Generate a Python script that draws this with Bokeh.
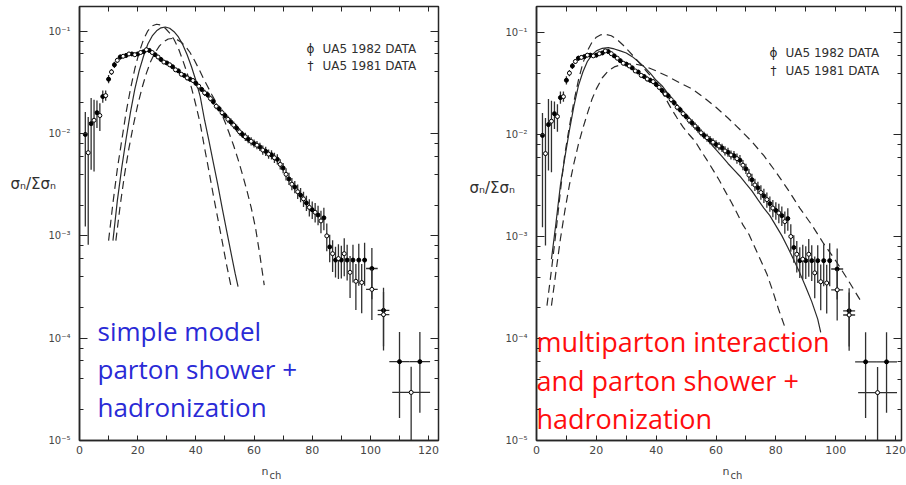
from bokeh.plotting import figure
from bokeh.layouts import row
from bokeh.models import (Range1d, LinearAxis, LogAxis, FixedTicker, LogTicker,
                          CustomJSTickFormatter, CustomLabelingPolicy, Label, ColumnDataSource)
from bokeh.embed import file_html
from bokeh.resources import INLINE

# ---------------- axis ticks ----------------
x_ticks = [0, 20, 40, 60, 80, 100, 120]
x_minor = [10, 30, 50, 70, 90, 110]

# ---------------- UA5 1982 data ----------------
n82 = [2, 4, 6, 8, 10, 12, 14, 16, 18, 20, 22, 24, 26, 28, 30, 32, 34, 36, 38, 40,
       42, 44, 46, 48, 50, 52, 54, 56, 58, 60, 62, 64, 66, 68, 70, 72, 74, 76, 78, 80,
       82, 84, 86, 88, 90, 92, 94, 96, 98, 100.5, 104.5, 110, 117]
v82 = [0.0098, 0.0125, 0.016, 0.023, 0.034, 0.047, 0.056, 0.058, 0.060, 0.060,
       0.063, 0.065, 0.059, 0.053, 0.049, 0.045, 0.041, 0.037, 0.034, 0.031,
       0.027, 0.024, 0.0205, 0.0175, 0.0150, 0.0130, 0.0113, 0.0098, 0.0088, 0.0080,
       0.0074, 0.0067, 0.0062, 0.0056, 0.0046, 0.0036, 0.0030, 0.0025, 0.0021, 0.0018,
       0.0016, 0.0015, 0.00078, 0.00058, 0.00058, 0.00058, 0.00058, 0.00058, 0.00058,
       0.00048, 0.000187, 5.9e-5, 5.9e-5]
up82 = [0.22, 0.25, 0.12, 0.06, 0.04, 0.03, 0.025, 0.02, 0.02, 0.02,
        0.02, 0.02, 0.02, 0.02, 0.02, 0.02, 0.02, 0.02, 0.025, 0.025,
        0.025, 0.03, 0.03, 0.03, 0.03, 0.035, 0.035, 0.035, 0.04, 0.04,
        0.04, 0.045, 0.045, 0.05, 0.05, 0.06, 0.06, 0.07, 0.07, 0.08,
        0.09, 0.10, 0.12, 0.13, 0.14, 0.15, 0.15, 0.16, 0.17,
        0.20, 0.22, 0.29, 0.29]
dn82 = [0.90, 0.45, 0.15, 0.06, 0.04, 0.03, 0.025, 0.02, 0.02, 0.02,
        0.02, 0.02, 0.02, 0.02, 0.02, 0.02, 0.02, 0.02, 0.025, 0.025,
        0.025, 0.03, 0.03, 0.03, 0.03, 0.035, 0.035, 0.035, 0.04, 0.04,
        0.04, 0.045, 0.045, 0.05, 0.05, 0.06, 0.06, 0.07, 0.08, 0.09,
        0.10, 0.12, 0.15, 0.17, 0.18, 0.20, 0.22, 0.25, 0.25,
        0.30, 0.35, 0.55, 0.50]
xe82 = [0] * 49 + [2, 2, 3.5, 3.5]

# ---------------- UA5 1981 data ----------------
n81 = [3, 5, 7, 9, 11, 13, 15, 17, 19, 21, 23, 25, 27, 29, 31, 33, 35, 37, 39, 41,
       43, 45, 47, 49, 51, 53, 55, 57, 59, 61, 63, 65, 67, 69, 71, 73, 75, 77, 79, 81,
       83, 85, 87, 89, 91, 93, 95, 97, 100.5, 104.5, 114]
v81 = [0.0065, 0.0135, 0.015, 0.0235, 0.040, 0.052, 0.057, 0.060, 0.059, 0.062,
       0.066, 0.062, 0.056, 0.050, 0.047, 0.042, 0.038, 0.035, 0.033, 0.029,
       0.025, 0.022, 0.0185, 0.016, 0.0138, 0.0121, 0.0104, 0.0093, 0.0084, 0.0077,
       0.0069, 0.0063, 0.0058, 0.0050, 0.0040, 0.0032, 0.0027, 0.0023, 0.0019, 0.0017,
       0.0014, 0.00100, 0.00067, 0.00060, 0.00067, 0.00044, 0.00036, 0.00035,
       0.00030, 0.00017, 2.95e-5]
up81 = [0.35, 0.20, 0.12, 0.05, 0.03, 0.025, 0.02, 0.02, 0.02, 0.02,
        0.02, 0.02, 0.02, 0.02, 0.02, 0.02, 0.02, 0.025, 0.025, 0.025,
        0.03, 0.03, 0.03, 0.03, 0.035, 0.035, 0.035, 0.04, 0.04, 0.04,
        0.045, 0.045, 0.05, 0.05, 0.06, 0.06, 0.07, 0.07, 0.08, 0.09,
        0.10, 0.12, 0.13, 0.14, 0.15, 0.16, 0.17, 0.18,
        0.20, 0.22, 0.25]
dn81 = [0.90, 0.50, 0.15, 0.05, 0.03, 0.025, 0.02, 0.02, 0.02, 0.02,
        0.02, 0.02, 0.02, 0.02, 0.02, 0.02, 0.02, 0.025, 0.025, 0.025,
        0.03, 0.03, 0.03, 0.03, 0.035, 0.035, 0.035, 0.04, 0.04, 0.04,
        0.045, 0.045, 0.05, 0.05, 0.06, 0.06, 0.07, 0.08, 0.09, 0.10,
        0.12, 0.15, 0.18, 0.20, 0.22, 0.25, 0.28, 0.30,
        0.30, 0.35, 0.80]
xe81 = [0] * 48 + [2, 2, 6.5]

# ---------------- model curves, left panel ----------------
ld1_n = [10.0, 11.5, 13.0, 14.5, 16.0, 17.5, 19.0, 20.5, 22.0, 23.5, 25.0, 26.5, 28.0,
         29.5, 31.0, 32.5, 34.0, 35.5, 37.0, 38.5, 40.0, 41.5, 43.0, 44.5, 46.0, 47.5,
         49.0, 50.5, 52.0]
ld1_v = [9.0e-4, 0.0021, 0.0045, 0.0085, 0.016, 0.027, 0.043, 0.062, 0.083, 0.101,
         0.113, 0.117, 0.115, 0.107, 0.096, 0.083, 0.068, 0.052, 0.039, 0.028, 0.019,
         0.0125, 0.0072, 0.0043, 0.0025, 0.0015, 0.0009, 0.00053, 0.00033]
ls_n = [11.5, 13.0, 14.5, 16.0, 17.5, 19.0, 20.5, 22.0, 23.5, 25.0, 26.5, 28.0, 29.5,
        31.0, 32.5, 34.0, 35.5, 37.0, 38.5, 40.0, 41.5, 43.0, 44.5, 46.0, 47.5, 49.0,
        50.5, 52.0, 53.5, 54.5]
ls_v = [9.0e-4, 0.0022, 0.0046, 0.0088, 0.016, 0.027, 0.041, 0.057, 0.075, 0.090,
        0.101, 0.108, 0.110, 0.107, 0.099, 0.088, 0.074, 0.059, 0.045, 0.033, 0.023,
        0.0135, 0.0085, 0.0052, 0.0032, 0.0019, 0.00115, 0.0007, 0.00043, 0.00032]
ld2_n = [12.5, 14.0, 15.5, 17.0, 18.5, 20.0, 21.5, 23.0, 24.5, 26.0, 27.5, 29.0, 30.5,
         32.0, 33.5, 35.0, 36.5, 38.0, 39.5, 41.0, 42.5, 44.0, 45.5, 47.0, 48.5, 50.0,
         51.5, 53.0, 54.5, 56.0, 57.5, 59.0, 60.5, 62.0, 63.5]
ld2_v = [9.0e-4, 0.0020, 0.0040, 0.0072, 0.012, 0.019, 0.028, 0.039, 0.051, 0.062,
         0.072, 0.079, 0.084, 0.085, 0.083, 0.078, 0.071, 0.062, 0.052, 0.043, 0.035,
         0.029, 0.024, 0.020, 0.0165, 0.0130, 0.0100, 0.0076, 0.0056, 0.0040, 0.0028,
         0.0019, 0.0012, 0.00065, 0.00033]

# ---------------- model curves, right panel ----------------
rd1_n = [3.5, 5.0, 6.5, 8.0, 9.5, 11.0, 12.5, 14.0, 15.5, 17.0, 18.5, 20.0, 21.5, 23.0,
         25.0, 27.0, 29.0, 31.0, 33.0, 35.0, 37.0, 39.0, 41.0, 43.0, 45.0, 47.0, 49.0,
         51.0, 53.0, 55.0, 57.0, 59.0, 61.0, 63.0, 65.0, 67.0, 69.0, 71.0, 73.0, 75.0,
         77.0, 79.0, 81.0, 83.0]
rd1_v = [2.1e-4, 4.7e-4, 0.0011, 0.0028, 0.0065, 0.012, 0.021, 0.034, 0.050, 0.066,
         0.080, 0.090, 0.095, 0.096, 0.093, 0.085, 0.075, 0.065, 0.056, 0.048, 0.041,
         0.035, 0.029, 0.023, 0.018, 0.0145, 0.0118, 0.0100, 0.0086, 0.0069, 0.0056,
         0.0045, 0.0036, 0.0028, 0.0022, 0.0017, 0.0013, 0.00105, 0.00078, 0.00058,
         0.00043, 0.00029, 0.00019, 0.00013]
rs_n = [5.0, 6.5, 8.0, 9.5, 11.0, 12.5, 14.0, 15.5, 17.0, 18.5, 20.0, 22.0, 24.0, 26.0,
        28.0, 30.0, 32.0, 34.0, 36.0, 38.0, 40.0, 42.0, 44.0, 46.0, 48.0, 50.0, 52.0,
        54.0, 56.0, 58.0, 60.0, 62.0, 64.0, 66.0, 68.0, 70.0, 72.0, 74.0, 76.0, 78.0,
        80.0, 82.0, 84.0, 86.0, 88.0, 90.0, 92.0, 94.0, 95.0]
rs_v = [6.0e-4, 0.00135, 0.0032, 0.0060, 0.011, 0.019, 0.030, 0.041, 0.052, 0.060,
        0.066, 0.070, 0.071, 0.069, 0.066, 0.063, 0.058, 0.052, 0.046, 0.040, 0.034,
        0.030, 0.025, 0.021, 0.018, 0.0155, 0.0133, 0.0114, 0.0097, 0.0083, 0.0071,
        0.0061, 0.0052, 0.0045, 0.0039, 0.0033, 0.0028, 0.0023, 0.0019, 0.0016,
        0.00128, 0.00102, 0.00078, 0.00059, 0.00044, 0.00032, 0.00023, 0.000155,
        0.000115]
rd2_n = [5.0, 6.5, 8.0, 9.5, 11.0, 12.5, 14.0, 15.5, 17.0, 18.5, 20.0, 22.0, 24.0, 26.0,
         28.0, 30.0, 33.0, 36.0, 40.0, 44.0, 48.0, 52.0, 56.0, 60.0, 64.0, 68.0, 72.0,
         76.0, 80.0, 84.0, 88.0, 92.0, 96.0, 100.0, 104.0, 108.5]
rd2_v = [2.1e-4, 4.5e-4, 9.5e-4, 0.0018, 0.0032, 0.0052, 0.0080, 0.0115, 0.016, 0.022,
         0.028, 0.036, 0.042, 0.046, 0.048, 0.049, 0.049, 0.047, 0.042, 0.037, 0.032,
         0.028, 0.023, 0.0185, 0.0145, 0.0112, 0.0085, 0.0062, 0.0043, 0.0029, 0.0019,
         0.0013, 0.00085, 0.00058, 0.00038, 0.00023]

legend_texts = ["UA5 1982 DATA", "UA5 1981 DATA"]
legend_marks = ["\u0278", "\u2020"]
left_note = ["simple model", "parton shower +", "hadronization"]
right_note = ["multiparton interaction", "and parton shower +", "hadronization"]

INK = "#262626"
SUP = {"-": "\u207b", "0": "\u2070", "1": "\u00b9", "2": "\u00b2", "3": "\u00b3",
       "4": "\u2074", "5": "\u2075", "6": "\u2076", "7": "\u2077", "8": "\u2078", "9": "\u2079"}

fmt_code = """
const e = Math.round(Math.log10(tick));
const m = %s;
return "10" + String(e).split("").map(c => m[c]).join("");
""" % (str(SUP).replace("'", '"'))


def data_sources(n, v, up, dn, xe):
    lo = [vi * 10 ** (-d) for vi, d in zip(v, dn)]
    hi = [vi * 10 ** (u) for vi, u in zip(v, up)]
    pts = ColumnDataSource(dict(n=n, v=v, lo=lo, hi=hi))
    hx = [(ni, vi, e) for ni, vi, e in zip(n, v, xe) if e > 0]
    hsrc = ColumnDataSource(dict(x0=[a - e for a, _, e in hx], x1=[a + e for a, _, e in hx],
                                 y=[b for _, b, _ in hx]))
    return pts, hsrc


def tick_only(ax):
    ax.major_label_policy = CustomLabelingPolicy(code="return []")
    ax.major_label_text_font_size = "1px"
    ax.major_label_standoff = 0
    ax.major_tick_out = 0
    ax.minor_tick_out = 0
    ax.axis_line_color = INK
    ax.major_tick_line_color = INK
    ax.minor_tick_line_color = INK


def make_panel(width, fl, fr, ft, fb, x_end, y_top, curves, note, note_color, note_size,
               note_x, note_ys, ylab_x, ylab_y, leg_x, leg_ys, xlab_x, xlab_y):
    p = figure(width=width, height=485, y_axis_type="log",
               x_range=Range1d(0, x_end), y_range=Range1d(1e-5, y_top),
               output_backend="svg", toolbar_location=None,
               min_border_left=fl, min_border_right=width - fr,
               min_border_top=ft, min_border_bottom=485 - fb)
    p.grid.visible = False
    p.outline_line_color = INK
    p.outline_line_width = 1.5
    p.background_fill_color = "white"
    p.border_fill_color = "white"

    xa = p.xaxis[0]
    xa.ticker = FixedTicker(ticks=x_ticks, minor_ticks=x_minor)
    ya = p.yaxis[0]
    ya.ticker = LogTicker(mantissas=[1], desired_num_ticks=6)
    ya.formatter = CustomJSTickFormatter(code=fmt_code)
    for ax in (xa, ya):
        ax.axis_line_color = INK
        ax.axis_line_width = 1.5
        ax.major_tick_line_color = INK
        ax.minor_tick_line_color = INK
        ax.major_tick_out = 0
        ax.minor_tick_out = 0
        ax.major_label_text_font = "DejaVu Sans"
        ax.major_label_text_color = "#454545"
    xa.major_tick_in = 5
    xa.minor_tick_in = 5
    xa.major_label_text_font_size = "11px"
    xa.major_label_standoff = 5
    ya.major_tick_in = 8
    ya.minor_tick_in = 4
    ya.major_label_text_font_size = "10px"
    ya.major_label_standoff = 9

    top = LinearAxis(ticker=FixedTicker(ticks=x_ticks, minor_ticks=x_minor),
                     major_tick_in=5, minor_tick_in=5)
    tick_only(top)
    p.add_layout(top, "above")
    right = LogAxis(ticker=LogTicker(mantissas=[1], desired_num_ticks=6),
                    major_tick_in=8, minor_tick_in=4)
    tick_only(right)
    p.add_layout(right, "right")

    # curves
    for cn, cv, dash in curves:
        p.line(cn, cv, line_color="#2a2a2a", line_width=1.2, line_dash=dash)

    # data
    for (n, v, up, dn, xe), marker_fill in (((n82, v82, up82, dn82, xe82), "black"),
                                             ((n81, v81, up81, dn81, xe81), "white")):
        pts, hsrc = data_sources(n, v, up, dn, xe)
        p.segment(x0="n", y0="lo", x1="n", y1="hi", source=pts,
                  line_color="#303030", line_width=1.3)
        p.segment(x0="x0", y0="y", x1="x1", y1="y", source=hsrc,
                  line_color="#303030", line_width=1.3)
        p.scatter("n", "v", source=pts, size=4, marker="circle",
                  fill_color=marker_fill, line_color="black", line_width=1)

    # legend
    for t, mk, yy in zip(legend_texts, legend_marks, leg_ys):
        p.add_layout(Label(x=leg_x - 12, y=yy, x_units="screen", y_units="screen", text=mk,
                           text_font="DejaVu Sans", text_font_size="12px",
                           text_color=INK, text_baseline="middle", text_align="center"))
        p.add_layout(Label(x=leg_x, y=yy, x_units="screen", y_units="screen", text=t,
                           text_font="DejaVu Sans", text_font_size="12px",
                           text_color="#303030", text_baseline="middle"))

    # axis titles (placed in the side panels so they are not clipped)
    p.add_layout(Label(x=ylab_x, y=ylab_y, x_units="screen", y_units="screen",
                       text="\u03c3\u2099/\u03a3\u03c3\u2099", text_font="DejaVu Sans",
                       text_font_size="15px", text_color="#303030", text_baseline="middle"),
                 "left")
    p.add_layout(Label(x=xlab_x, y=xlab_y, x_units="screen", y_units="screen",
                       text="n", text_font="DejaVu Sans", text_font_size="11px",
                       text_color="#454545", text_baseline="middle"), "below")
    p.add_layout(Label(x=xlab_x + 8, y=xlab_y + 7, x_units="screen", y_units="screen",
                       text="ch", text_font="DejaVu Sans", text_font_size="10px",
                       text_color="#454545", text_baseline="middle"), "below")

    # annotation
    for line_text, yy in zip(note, note_ys):
        p.add_layout(Label(x=note_x, y=yy, x_units="screen", y_units="screen",
                           text=line_text, text_font="Open Sans", text_font_size=note_size,
                           text_color=note_color, text_baseline="alphabetic"))
    return p


left = make_panel(450, 79, 438, 4, 442, 123.4, 10 ** -0.758,
                  [(ld1_n, ld1_v, "8 5"), (ls_n, ls_v, "solid"), (ld2_n, ld2_v, "8 5")],
                  left_note, "#2a2ad6", "26px", 18, [110, 72, 34],
                  10, 257, 243, [392, 375], 182, -2)
right = make_panel(456, 536 - 450, 904 - 450, 6, 440, 122.0, 10 ** -0.745,
                   [(rd1_n, rd1_v, "8 5"), (rs_n, rs_v, "solid"), (rd2_n, rd2_v, "8 5")],
                   right_note, "#ff0d0d", "27px", 0, [99, 60, 22],
                   12, 253, 249, [388, 370], 186, -2)

layout = row(left, right)
open("out.html", "w").write(file_html(layout, INLINE))
